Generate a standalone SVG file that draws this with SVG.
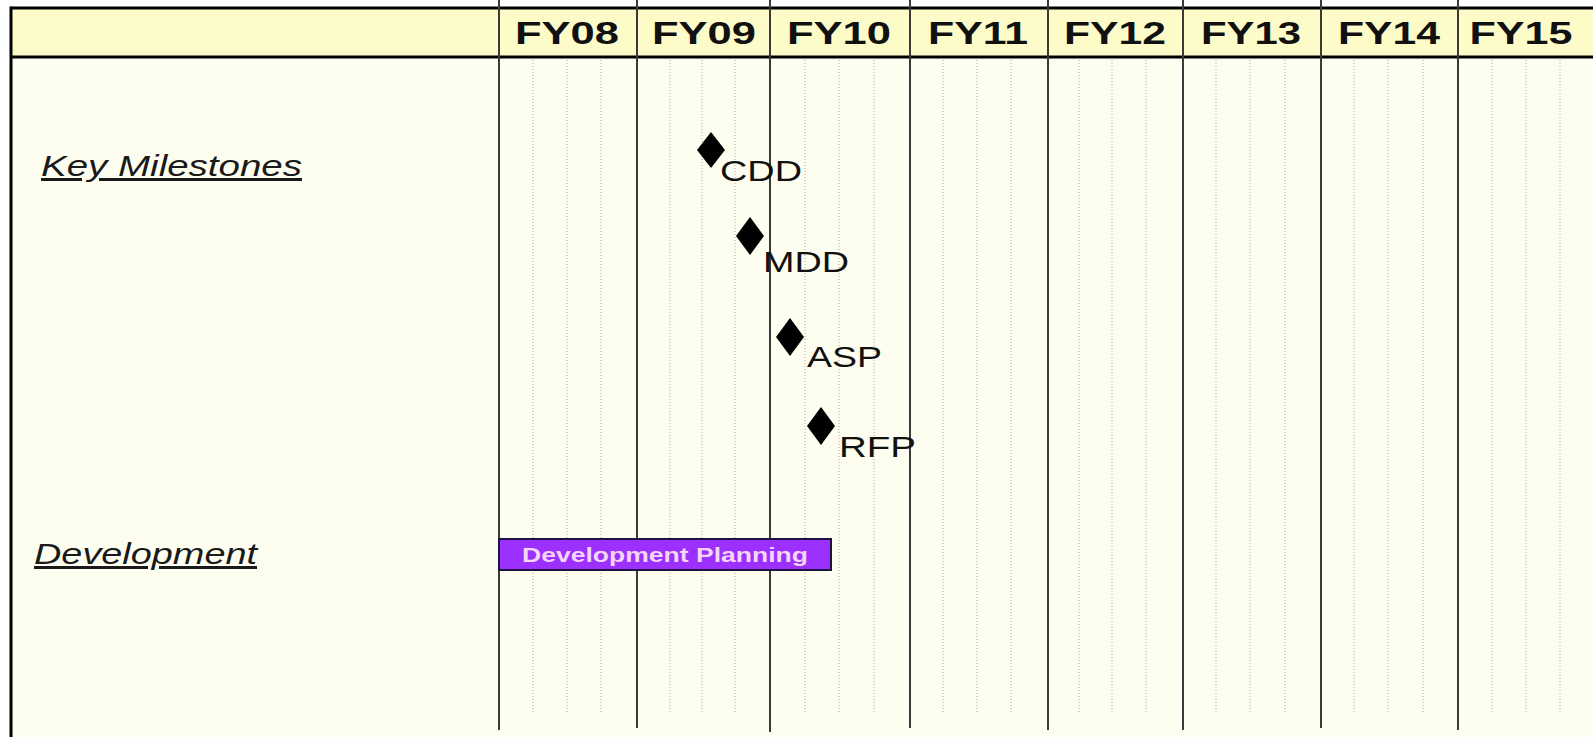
<svg xmlns="http://www.w3.org/2000/svg" width="1593" height="737" viewBox="0 0 1593 737">
  <style>
    .hdr { font-family: "Liberation Sans", Arial, sans-serif; font-weight: bold; font-size: 31px; fill: #111; text-anchor: middle; }
    .ms { font-family: "Liberation Sans", Arial, sans-serif; font-size: 29px; fill: #111; }
    .sec { font-family: "Liberation Sans", Arial, sans-serif; font-style: italic; font-size: 30px; fill: #1a1a1a; text-decoration: underline; }
    .major { stroke: #3a3a3a; stroke-width: 2; }
    .minor { stroke: #a8a8a8; stroke-width: 1; stroke-dasharray: 1 2; }
    .dia { fill: #000; }
  </style>
  <rect x="0" y="0" width="1593" height="737" fill="#ffffff"/>
  <rect x="11" y="8" width="1582" height="729" fill="#fefef0"/>
  <g id="header">
    <rect x="11" y="8" width="1582" height="49" fill="#fdfcc9"/>
    <line x1="11" y1="8" x2="1593" y2="8" stroke="#000" stroke-width="3"/>
    <line x1="11" y1="57" x2="1593" y2="57" stroke="#000" stroke-width="3"/>
  </g>
  <line x1="11" y1="6.5" x2="11" y2="737" stroke="#000" stroke-width="3"/>
  <g id="grid">
    <g class="minor">
      <line x1="533" y1="60" x2="533" y2="712"/><line x1="567" y1="60" x2="567" y2="712"/><line x1="601" y1="60" x2="601" y2="712"/>
      <line x1="670" y1="60" x2="670" y2="712"/><line x1="702" y1="60" x2="702" y2="712"/><line x1="735" y1="60" x2="735" y2="712"/>
      <line x1="805" y1="60" x2="805" y2="712"/><line x1="839" y1="60" x2="839" y2="712"/><line x1="874" y1="60" x2="874" y2="712"/>
      <line x1="943" y1="60" x2="943" y2="712"/><line x1="977" y1="60" x2="977" y2="712"/><line x1="1011" y1="60" x2="1011" y2="712"/>
      <line x1="1079" y1="60" x2="1079" y2="712"/><line x1="1112" y1="60" x2="1112" y2="712"/><line x1="1146" y1="60" x2="1146" y2="712"/>
      <line x1="1216" y1="60" x2="1216" y2="712"/><line x1="1250" y1="60" x2="1250" y2="712"/><line x1="1285" y1="60" x2="1285" y2="712"/>
      <line x1="1492" y1="60" x2="1492" y2="712"/><line x1="1526" y1="60" x2="1526" y2="712"/><line x1="1560" y1="60" x2="1560" y2="712"/>
      <line x1="1354" y1="60" x2="1354" y2="712"/><line x1="1388" y1="60" x2="1388" y2="712"/><line x1="1423" y1="60" x2="1423" y2="712"/>
    </g>
    <g class="major">
      <line x1="499" y1="0" x2="499" y2="730"/>
      <line x1="637" y1="0" x2="637" y2="728"/>
      <line x1="770" y1="0" x2="770" y2="732"/>
      <line x1="910" y1="0" x2="910" y2="728"/>
      <line x1="1048" y1="0" x2="1048" y2="730"/>
      <line x1="1183" y1="0" x2="1183" y2="730"/>
      <line x1="1321" y1="0" x2="1321" y2="728"/>
      <line x1="1458" y1="0" x2="1458" y2="730"/>
    </g>
  </g>
  <g id="years">
    <text class="hdr" x="567" y="44" textLength="104" lengthAdjust="spacingAndGlyphs">FY08</text>
    <text class="hdr" x="704" y="44" textLength="104" lengthAdjust="spacingAndGlyphs">FY09</text>
    <text class="hdr" x="839" y="44" textLength="104" lengthAdjust="spacingAndGlyphs">FY10</text>
    <text class="hdr" x="978" y="44" textLength="100" lengthAdjust="spacingAndGlyphs">FY11</text>
    <text class="hdr" x="1115" y="44" textLength="102" lengthAdjust="spacingAndGlyphs">FY12</text>
    <text class="hdr" x="1251" y="44" textLength="100" lengthAdjust="spacingAndGlyphs">FY13</text>
    <text class="hdr" x="1389" y="44" textLength="102" lengthAdjust="spacingAndGlyphs">FY14</text>
    <text class="hdr" x="1521" y="44" textLength="103" lengthAdjust="spacingAndGlyphs">FY15</text>
  </g>
  <g id="label-key-milestones">
    <text class="sec" x="41" y="176" textLength="261" lengthAdjust="spacingAndGlyphs">Key Milestones</text>
  </g>
  <g id="label-development">
    <text class="sec" x="34" y="564" textLength="223" lengthAdjust="spacingAndGlyphs">Development</text>
  </g>
  <g id="milestone-cdd">
    <polygon class="dia" points="711,132 725,150 711,168 697,150"/>
    <text class="ms" x="720" y="181" textLength="82" lengthAdjust="spacingAndGlyphs">CDD</text>
  </g>
  <g id="milestone-mdd">
    <polygon class="dia" points="750,217 764,236 750,255 736,236"/>
    <text class="ms" x="763" y="272" textLength="86" lengthAdjust="spacingAndGlyphs">MDD</text>
  </g>
  <g id="milestone-asp">
    <polygon class="dia" points="790,318 804,337 790,356 776,337"/>
    <text class="ms" x="807" y="367" textLength="75" lengthAdjust="spacingAndGlyphs">ASP</text>
  </g>
  <g id="milestone-rfp">
    <polygon class="dia" points="821,407 835,426 821,445 807,426"/>
    <text class="ms" x="839" y="457" textLength="77" lengthAdjust="spacingAndGlyphs">RFP</text>
  </g>
  <g id="bar-development-planning">
    <rect x="499" y="539" width="332" height="31" fill="#9b30ff" stroke="#1e1440" stroke-width="2"/>
    <text x="522" y="562" font-family="'Liberation Sans', Arial, sans-serif" font-weight="bold" font-size="20" fill="#f6d4f4" textLength="286" lengthAdjust="spacingAndGlyphs">Development Planning</text>
  </g>
</svg>
